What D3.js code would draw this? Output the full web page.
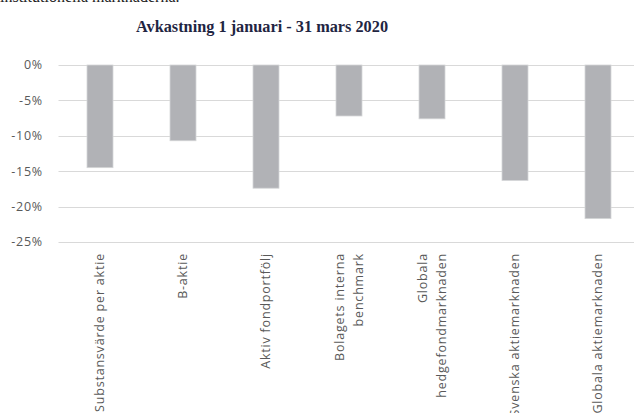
<!DOCTYPE html>
<html>
<head>
<meta charset="utf-8">
<script src="https://cdn.jsdelivr.net/npm/d3@7"></script>
<style>
    body { margin: 0; background: #fff; }
    svg { display: block; }
</style>
</head>
<body>
<div id="chart"></div>
<script>
'use strict';

// Data
const categories = [
    ['Substansvärde per aktie'],
    ['B-aktie'],
    ['Aktiv fondportfölj'],
    ['Bolagets interna', 'benchmark'],
    ['Globala', 'hedgefondmarknaden'],
    ['Svenska aktiemarknaden'],
    ['Globala aktiemarknaden']
];
const returns = [-14.5, -10.7, -17.4, -7.2, -7.6, -16.3, -21.7];
const yTicks = [0, -5, -10, -15, -20, -25];
const title = 'Avkastning 1 januari - 31 mars 2020';

// Config
const w = 634;
const h = 413;
const plot = {left: 58.5, right: 639.5, top: 65, bottom: 242};
const labelFont = {family: 'Open Sans, sans-serif', size: '12.5px', spacing: '0.8px', color: '#595959'};

const svg = d3.select('#chart')
    .append('svg')
    .attr('width', w)
    .attr('height', h);

// Leftover line of body text above the chart (cropped)
svg.append('text')
    .attr('x', 0)
    .attr('y', 1.5)
    .style('font-family', 'Liberation Serif, serif')
    .style('font-size', '16px')
    .style('fill', '#222')
    .text('institutionella marknaderna.');

// Title
svg.append('text')
    .attr('x', 262)
    .attr('y', 32)
    .attr('text-anchor', 'middle')
    .style('font-family', 'Liberation Serif, serif')
    .style('font-weight', 'bold')
    .style('font-size', '16.3px')
    .style('fill', '#1f2542')
    .text(title);

// Scales
const xScale = d3.scaleBand()
    .domain(d3.range(categories.length))
    .range([plot.left, plot.right]);

const yScale = d3.scaleLinear()
    .domain([-25, 0])
    .range([plot.bottom, plot.top]);

// Grid
svg.append('g')
    .selectAll('line')
    .data(yTicks)
    .join('line')
    .attr('x1', plot.left)
    .attr('x2', w)
    .attr('y1', d => Math.round(yScale(d)) + 0.5)
    .attr('y2', d => Math.round(yScale(d)) + 0.5)
    .attr('stroke', '#d9d9d9')
    .attr('stroke-width', 1.2);

// Y labels
svg.append('g')
    .selectAll('text')
    .data(yTicks)
    .join('text')
    .attr('x', 43)
    .attr('y', d => yScale(d))
    .attr('dy', '0.35em')
    .attr('text-anchor', 'end')
    .style('font-family', labelFont.family)
    .style('font-size', labelFont.size)
    .style('letter-spacing', labelFont.spacing)
    .style('fill', labelFont.color)
    .text(d => `${d}%`);

// Bars
const barW = xScale.bandwidth() * 0.313;
svg.append('g')
    .selectAll('rect')
    .data(returns)
    .join('rect')
    .attr('x', (d, i) => xScale(i) + (xScale.bandwidth() - barW) / 2)
    .attr('y', yScale(0))
    .attr('width', barW)
    .attr('height', d => yScale(d) - yScale(0))
    .attr('fill', '#b1b2b6')
    .attr('stroke', '#d4d5d7')
    .attr('stroke-width', 0.8);

// Category labels, rotated
const lineH = 19;
const labelG = svg.append('g')
    .selectAll('g')
    .data(categories)
    .join('g')
    .attr('transform', (d, i) => `translate(${xScale(i) + xScale.bandwidth() / 2}, 253) rotate(-90)`);

labelG.selectAll('text')
    .data(d => d.map((t, j) => ({t, j, n: d.length})))
    .join('text')
    .attr('x', 0)
    .attr('y', d => (d.j - (d.n - 1) / 2) * lineH)
    .attr('dy', '0.35em')
    .attr('text-anchor', 'end')
    .style('font-family', labelFont.family)
    .style('font-size', labelFont.size)
    .style('letter-spacing', labelFont.spacing)
    .style('fill', labelFont.color)
    .text(d => d.t);
</script>
</body>
</html>
